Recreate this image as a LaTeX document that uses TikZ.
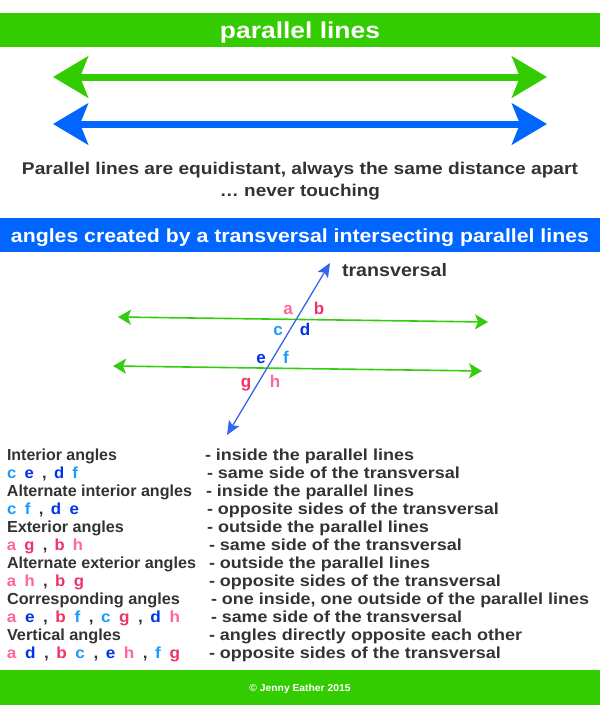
\documentclass[tikz,border=0pt]{standalone}
\usepackage{fontspec}
\setmainfont{Liberation Sans}
\usepackage{graphicx}
\usetikzlibrary{arrows.meta}
\definecolor{bangreen}{HTML}{33CC00}
\definecolor{banblue}{HTML}{0066FF}
\definecolor{txt}{HTML}{333333}
\definecolor{lgreen}{HTML}{33CC11}
\definecolor{tblue}{HTML}{3366EE}
\definecolor{pkL}{HTML}{FF6699}
\definecolor{pkD}{HTML}{F03366}
\definecolor{blL}{HTML}{1A9BFF}
\definecolor{blD}{HTML}{0033EE}
\newcommand{\fitw}[2]{\resizebox{#1}{\height}{#2}}
\newcommand{\pa}{\hspace{8pt}}
\newcommand{\cm}{\hspace{8pt},\hspace{7pt}}
\newcommand{\La}{\textcolor{pkL}{a}}
\newcommand{\Lb}{\textcolor{pkD}{b}}
\newcommand{\Lc}{\textcolor{blL}{c}}
\newcommand{\Ld}{\textcolor{blD}{d}}
\newcommand{\Le}{\textcolor{blD}{e}}
\newcommand{\Lf}{\textcolor{blL}{f}}
\newcommand{\Lg}{\textcolor{pkD}{g}}
\newcommand{\Lh}{\textcolor{pkL}{h}}
\tikzset{
  txtnode/.style={inner sep=0pt, outer sep=0pt, text=txt, font=\fontsize{16}{18}\selectfont\bfseries},
  lft/.style={txtnode, anchor=base west},
  banner/.style={inner sep=0pt, text=white, font=\bfseries},
  bigarrow/.style={line width=7pt, {Stealth[length=35pt,width=41pt,inset=8pt]}-{Stealth[length=35pt,width=41pt,inset=8pt]}},
  thinline/.style={lgreen, line width=1.6pt, {Stealth[length=13pt,width=15pt,inset=3pt]}-{Stealth[length=13pt,width=15pt,inset=3pt]}},
  transline/.style={tblue, line width=1.3pt, {Stealth[length=14pt,width=12pt,inset=3pt]}-{Stealth[length=14pt,width=12pt,inset=3pt]}},
  anglab/.style={inner sep=0pt, anchor=base, font=\fontsize{17}{19}\selectfont\bfseries}
}
\begin{document}
\begin{tikzpicture}[x=1pt,y=-1pt]
\useasboundingbox (0,0) rectangle (600,705);
\fill[white] (0,0) rectangle (600,705);
% top banner
\fill[bangreen] (0,13) rectangle (600,47);
\node[banner, anchor=base, font=\fontsize{23}{25}\selectfont\bfseries] (title) at (300,38) {\fitw{160pt}{parallel lines}};
% parallel arrows
\coordinate (gl) at (53,77);
\coordinate (gr) at (547,77);
\coordinate (bl) at (53,124);
\coordinate (br) at (547,124);
\draw[bigarrow, bangreen] (gl) -- (gr);
\draw[bigarrow, banblue] (bl) -- (br);
% description
\node[txtnode, anchor=base, font=\fontsize{17}{19}\selectfont\bfseries] (desc1) at (300,174) {\fitw{556pt}{Parallel lines are equidistant, always the same distance apart}};
\node[txtnode, anchor=base, font=\fontsize{17}{19}\selectfont\bfseries] (desc2) at (300,196) {\fitw{160pt}{\dots\ never touching}};
% blue banner
\fill[banblue] (0,218) rectangle (600,252);
\node[banner, anchor=base, font=\fontsize{19}{21}\selectfont\bfseries] (sub) at (300,242) {\fitw{578pt}{angles created by a transversal intersecting parallel lines}};
% transversal diagram
\coordinate (u1) at (118,317);
\coordinate (u2) at (488,322);
\coordinate (l1) at (113,366);
\coordinate (l2) at (482,371);
\coordinate (t1) at (330,263);
\coordinate (t2) at (227,435);
\draw[thinline] (u1) -- (u2);
\draw[thinline] (l1) -- (l2);
\draw[transline] (t2) -- (t1);
\node[txtnode, anchor=base west, font=\fontsize{18}{20}\selectfont\bfseries] (tlab) at (342,276) {\fitw{105pt}{transversal}};
\node[anglab, text=pkL] (la) at (288,314) {a};
\node[anglab, text=pkD] (lb) at (319,314) {b};
\node[anglab, text=blL] (lc) at (278,335) {c};
\node[anglab, text=blD] (ld) at (305,335) {d};
\node[anglab, text=blD] (le) at (261,363) {e};
\node[anglab, text=blL] (lf) at (286,363) {f};
\node[anglab, text=pkD] (lg) at (246,387) {g};
\node[anglab, text=pkL] (lh) at (275,387) {h};
% list, left column
\node[lft] (r1l) at (7,460) {\fitw{110pt}{Interior angles}};
\node[lft] (r2l) at (7,478) {\fitw{71pt}{\Lc\pa\Le\cm\Ld\pa\Lf}};
\node[lft] (r3l) at (7,496) {\fitw{185pt}{Alternate interior angles}};
\node[lft] (r4l) at (7,514) {\fitw{72pt}{\Lc\pa\Lf\cm\Ld\pa\Le}};
\node[lft] (r5l) at (7,532) {\fitw{117pt}{Exterior angles}};
\node[lft] (r6l) at (7,550) {\fitw{76pt}{\La\pa\Lg\cm\Lb\pa\Lh}};
\node[lft] (r7l) at (7,568) {\fitw{189pt}{Alternate exterior angles}};
\node[lft] (r8l) at (7,586) {\fitw{77pt}{\La\pa\Lh\cm\Lb\pa\Lg}};
\node[lft] (r9l) at (7,604) {\fitw{173pt}{Corresponding angles}};
\node[lft] (r10l) at (7,622) {\fitw{173pt}{\La\pa\Le\cm\Lb\pa\Lf\cm\Lc\pa\Lg\cm\Ld\pa\Lh}};
\node[lft] (r11l) at (7,640) {\fitw{114pt}{Vertical angles}};
\node[lft] (r12l) at (7,658) {\fitw{173pt}{\La\pa\Ld\cm\Lb\pa\Lc\cm\Le\pa\Lh\cm\Lf\pa\Lg}};
% list, right column
\node[lft] (r1r) at (205,460) {\fitw{209pt}{- inside the parallel lines}};
\node[lft] (r2r) at (207,478) {\fitw{253pt}{- same side of the transversal}};
\node[lft] (r3r) at (206,496) {\fitw{208pt}{- inside the parallel lines}};
\node[lft] (r4r) at (207,514) {\fitw{292pt}{- opposite sides of the transversal}};
\node[lft] (r5r) at (207,532) {\fitw{222pt}{- outside the parallel lines}};
\node[lft] (r6r) at (209,550) {\fitw{253pt}{- same side of the transversal}};
\node[lft] (r7r) at (209,568) {\fitw{221pt}{- outside the parallel lines}};
\node[lft] (r8r) at (209,586) {\fitw{292pt}{- opposite sides of the transversal}};
\node[lft] (r9r) at (211,604) {\fitw{378pt}{- one inside, one outside of the parallel lines}};
\node[lft] (r10r) at (211,622) {\fitw{251pt}{- same side of the transversal}};
\node[lft] (r11r) at (209,640) {\fitw{313pt}{- angles directly opposite each other}};
\node[lft] (r12r) at (209,658) {\fitw{292pt}{- opposite sides of the transversal}};
% footer
\fill[bangreen] (0,670) rectangle (600,705);
\node[banner, anchor=base, font=\fontsize{10}{12}\selectfont\bfseries] (foot) at (300,691) {\fitw{101pt}{\textcopyright\ Jenny Eather 2015}};
\end{tikzpicture}
\end{document}
